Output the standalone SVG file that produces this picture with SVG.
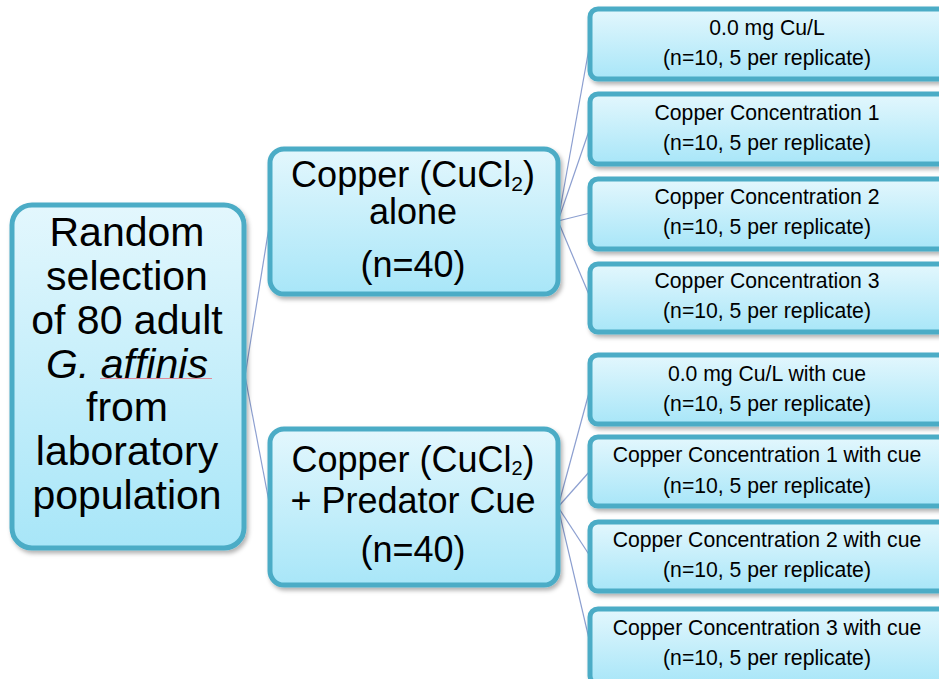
<svg xmlns="http://www.w3.org/2000/svg" width="939" height="679" viewBox="0 0 939 679">
<defs>
<linearGradient id="g" x1="0" y1="0" x2="0" y2="1">
<stop offset="0" stop-color="#e3f7fd"/>
<stop offset="1" stop-color="#a8e6f8"/>
</linearGradient>
<filter id="sh" x="-10%" y="-10%" width="130%" height="130%">
<feDropShadow dx="2" dy="3" stdDeviation="2" flood-color="#000" flood-opacity="0.3"/>
</filter>
</defs>
<style>
.box{fill:url(#g);stroke:#4bacc6;stroke-width:5;filter:url(#sh)}
.t{font-family:"Liberation Sans",Arial,sans-serif;fill:#000;text-anchor:middle}
.big{font-size:41px}
.mid{font-size:36px}
.sm{font-size:21.2px}
.conn{stroke:#8c9fd0;stroke-width:1.2;fill:none}
</style>
<rect width="939" height="679" fill="#fff"/>
<g id="connectors">
<line class="conn" x1="245" y1="376" x2="270" y2="221"/>
<line class="conn" x1="245" y1="376" x2="270" y2="507"/>
<line class="conn" x1="558" y1="221" x2="590" y2="43"/>
<line class="conn" x1="558" y1="221" x2="590" y2="128"/>
<line class="conn" x1="558" y1="221" x2="590" y2="213"/>
<line class="conn" x1="558" y1="221" x2="590" y2="297"/>
<line class="conn" x1="558" y1="507" x2="590" y2="389"/>
<line class="conn" x1="558" y1="507" x2="590" y2="471"/>
<line class="conn" x1="558" y1="507" x2="590" y2="556"/>
<line class="conn" x1="558" y1="507" x2="590" y2="643"/>
</g>
<g id="root">
<rect class="box" x="12" y="205" width="232" height="343" rx="20"/>
<text class="t big" x="127" y="245.7">Random</text>
<text class="t big" x="127" y="289.6">selection</text>
<text class="t big" x="127" y="333.6">of 80 adult</text>
<text class="t big" x="127" y="377.5" font-style="italic">G. affinis</text>
<line x1="100" y1="378.5" x2="212" y2="378.5" stroke="#e08a9a" stroke-width="1"/>
<text class="t big" x="127" y="421.4">from</text>
<text class="t big" x="127" y="465.4">laboratory</text>
<text class="t big" x="127" y="509.3">population</text>
</g>
<g id="copper-alone">
<rect class="box" x="270" y="149" width="288" height="145" rx="14"/>
<text class="t mid" x="413" y="186.7">Copper (CuCl<tspan font-size="21" dy="4">2</tspan><tspan dy="-4">)</tspan></text>
<text class="t mid" x="413" y="224">alone</text>
<text class="t mid" x="413" y="277">(n=40)</text>
</g>
<g id="copper-cue">
<rect class="box" x="270" y="429" width="288" height="156" rx="14"/>
<text class="t mid" x="413" y="471.5">Copper (CuCl<tspan font-size="20" dy="3.5">2</tspan><tspan dy="-3.5">)</tspan></text>
<text class="t mid" x="413" y="512.5">+ Predator Cue</text>
<text class="t mid" x="413" y="562">(n=40)</text>
</g>
<g id="c0">
<rect class="box" x="590" y="9" width="360" height="70" rx="8"/>
<text class="t sm" x="767" y="35">0.0 mg Cu/L</text>
<text class="t sm" x="767" y="65">(n=10, 5 per replicate)</text>
</g>
<g id="c1">
<rect class="box" x="590" y="94" width="360" height="70" rx="8"/>
<text class="t sm" x="767" y="120">Copper Concentration 1</text>
<text class="t sm" x="767" y="150">(n=10, 5 per replicate)</text>
</g>
<g id="c2">
<rect class="box" x="590" y="179" width="360" height="70" rx="8"/>
<text class="t sm" x="767" y="204">Copper Concentration 2</text>
<text class="t sm" x="767" y="234">(n=10, 5 per replicate)</text>
</g>
<g id="c3">
<rect class="box" x="590" y="264" width="360" height="68" rx="8"/>
<text class="t sm" x="767" y="288">Copper Concentration 3</text>
<text class="t sm" x="767" y="318">(n=10, 5 per replicate)</text>
</g>
<g id="q0">
<rect class="box" x="590" y="355" width="360" height="69" rx="8"/>
<text class="t sm" x="767" y="381">0.0 mg Cu/L with cue</text>
<text class="t sm" x="767" y="411">(n=10, 5 per replicate)</text>
</g>
<g id="q1">
<rect class="box" x="590" y="437" width="360" height="69" rx="8"/>
<text class="t sm" x="767" y="462">Copper Concentration 1 with cue</text>
<text class="t sm" x="767" y="493">(n=10, 5 per replicate)</text>
</g>
<g id="q2">
<rect class="box" x="590" y="522" width="360" height="69" rx="8"/>
<text class="t sm" x="767" y="547">Copper Concentration 2 with cue</text>
<text class="t sm" x="767" y="577">(n=10, 5 per replicate)</text>
</g>
<g id="q3">
<rect class="box" x="590" y="609" width="360" height="75" rx="8"/>
<text class="t sm" x="767" y="635">Copper Concentration 3 with cue</text>
<text class="t sm" x="767" y="665">(n=10, 5 per replicate)</text>
</g>
</svg>
